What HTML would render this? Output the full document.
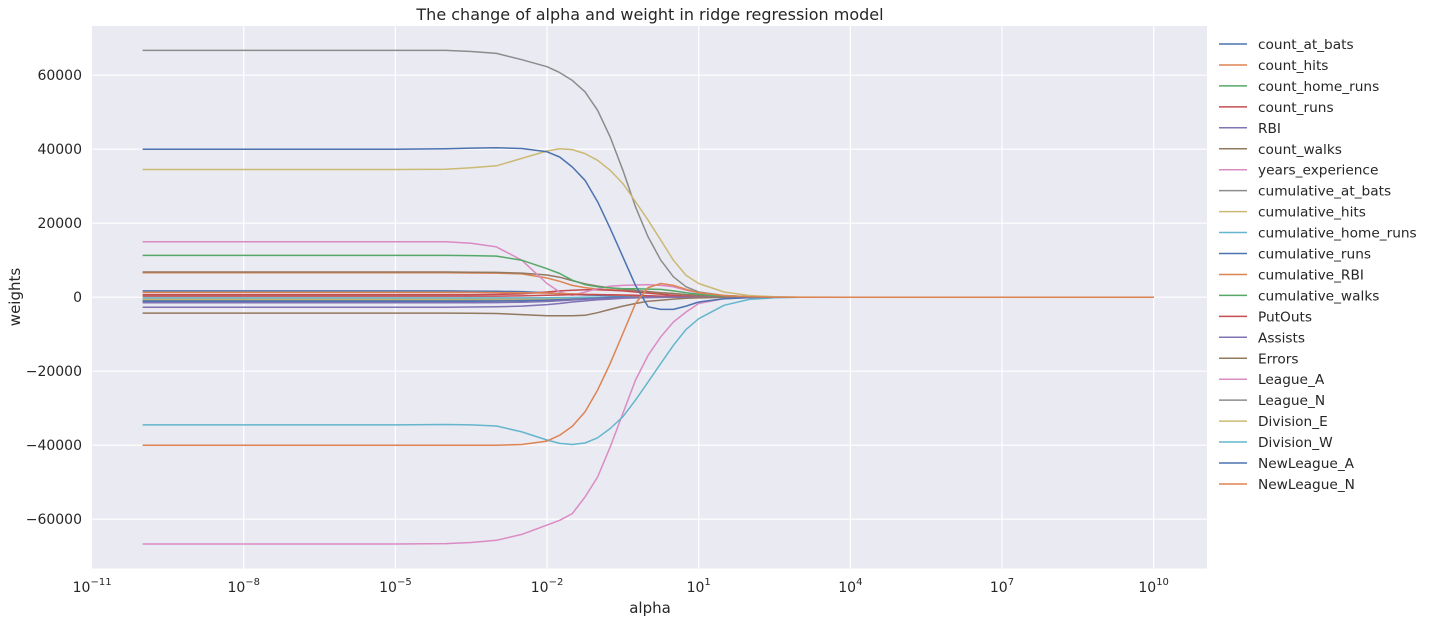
<!DOCTYPE html>
<html><head><meta charset="utf-8">
<style>
body{margin:0;background:#fff;width:1429px;height:623px;overflow:hidden;font-family:"DejaVu Sans","Liberation Sans",sans-serif;}
svg text{fill:#262626;font-family:"DejaVu Sans","Liberation Sans",sans-serif;}
</style></head>
<body>
<svg id="chart" width="1429" height="623" viewBox="0 0 1429 623" xmlns="http://www.w3.org/2000/svg">
<rect x="92" y="26" width="1115" height="542.5" fill="#EAEAF2"/>
<g id="grid"></g>
<g id="series"></g>
<g id="ticks"></g>
<text x="650" y="20" font-size="16" text-anchor="middle">The change of alpha and weight in ridge regression model</text>
<text x="650" y="613" font-size="15" text-anchor="middle">alpha</text>
<text x="20" y="297" font-size="15" text-anchor="middle" transform="rotate(-90 20 297)">weights</text>
<g id="legend"></g>
</svg>
<script>
const logAlphas=[-10,-5,-4,-3.5,-3,-2.5,-2,-1.75,-1.5,-1.25,-1,-0.75,-0.5,-0.25,0,0.25,0.5,0.75,1,1.5,2,2.5,3,4,10];
const seriesNames=["count_at_bats","count_hits","count_home_runs","count_runs","RBI","count_walks","years_experience","cumulative_at_bats","cumulative_hits","cumulative_home_runs","cumulative_runs","cumulative_RBI","cumulative_walks","PutOuts","Assists","Errors","League_A","League_N","Division_E","Division_W","NewLeague_A","NewLeague_N"];
const countAtBats=[1700,1700,1700,1650,1600,1500,1200,1000,800,600,500,400,300,250,200,150,100,60,30,10,0,0,0,0,0];
const countHits=[6600,6600,6600,6550,6500,6300,5200,4300,3200,2600,2200,2000,1800,1600,1500,1200,1000,700,500,150,30,0,0,0,0];
const countHomeRuns=[-800,-800,-800,-800,-780,-750,-650,-550,-450,-350,-250,-150,-50,0,50,60,50,30,20,5,0,0,0,0,0];
const countRuns=[700,700,700,700,750,900,1400,1700,1900,2000,2000,1900,1700,1400,1100,800,500,300,150,30,0,0,0,0,0];
const rbi=[-2700,-2700,-2700,-2650,-2600,-2400,-2000,-1700,-1300,-1000,-700,-500,-300,-200,-100,-50,0,0,0,0,0,0,0,0,0];
const countWalks=[6800,6800,6800,6750,6700,6500,6000,5400,4500,3600,3000,2500,2200,1800,1500,1200,1000,700,500,150,30,0,0,0,0];
const yearsExperience=[15000,15000,15000,14600,13600,10000,3700,1400,500,1400,2300,3000,3200,3300,3400,3200,2800,1900,1200,450,100,20,0,0,0];
const cumulativeAtBats=[-900,-900,-900,-880,-850,-800,-650,-550,-400,-300,-200,-100,0,100,150,150,120,80,40,10,0,0,0,0,0];
const cumulativeHits=[-500,-500,-500,-490,-480,-450,-380,-320,-250,-180,-100,-50,0,50,80,80,60,40,20,5,0,0,0,0,0];
const cumulativeHomeRuns=[-200,-200,-200,-200,-200,-180,-150,-120,-80,-40,0,40,60,80,80,70,50,30,15,5,0,0,0,0,0];
const cumulativeRuns=[-1100,-1100,-1100,-1080,-1050,-1000,-850,-700,-550,-400,-250,-100,0,60,90,80,60,40,20,5,0,0,0,0,0];
const cumulativeRBI=[1300,1300,1300,1300,1250,1200,1100,1000,900,800,700,600,500,400,300,200,150,100,50,10,0,0,0,0,0];
const cumulativeWalks=[11300,11300,11300,11250,11100,10000,7700,6400,4600,3400,2800,2500,2300,2300,2200,2100,1700,1200,800,200,50,0,0,0,0];
const putOuts=[300,300,300,300,300,350,500,600,700,700,700,650,600,500,400,300,200,120,60,10,0,0,0,0,0];
const assists=[-1500,-1500,-1500,-1480,-1450,-1350,-1150,-950,-750,-550,-400,-250,-150,-80,-40,-20,0,0,0,0,0,0,0,0,0];
const errors=[-4300,-4300,-4300,-4350,-4400,-4700,-5000,-5000,-5000,-4900,-4200,-3300,-2400,-1700,-1100,-800,-500,-300,-200,-50,0,0,0,0,0];
const leagueA=[-66700,-66700,-66600,-66300,-65700,-64100,-61600,-60300,-58500,-54000,-48600,-40500,-31400,-22400,-15700,-10700,-6700,-4000,-1700,-400,-100,-20,0,0,0];
const leagueN=[66700,66700,66700,66400,65900,64200,62300,60700,58600,55500,50500,43300,34300,24400,16300,10000,5500,2800,1400,450,100,20,0,0,0];
const divisionE=[34500,34500,34600,35000,35500,37500,39500,40100,39900,38800,37000,34300,30700,25800,20800,15400,10000,5900,3700,1400,450,100,20,0,0];
const divisionW=[-34500,-34500,-34400,-34500,-34800,-36400,-38600,-39500,-39800,-39400,-38000,-35500,-32300,-27800,-22900,-17900,-13000,-8700,-5800,-2200,-600,-150,-30,0,0];
const newLeagueA=[40000,40000,40100,40300,40400,40200,39300,37900,35200,31600,25800,18600,10900,3200,-2600,-3300,-3300,-2400,-1300,-400,-100,-20,0,0,0];
const newLeagueN=[-40000,-40000,-40000,-40000,-40000,-39800,-38900,-37300,-34900,-31000,-25100,-17900,-9800,-1700,2600,3700,3200,2100,1200,450,100,20,0,0,0];
const xTickExps=[-11,-8,-5,-2,1,4,7,10];
const yTicks=[-60000,-40000,-20000,0,20000,40000,60000];

const allSeries=[countAtBats,countHits,countHomeRuns,countRuns,rbi,countWalks,yearsExperience,cumulativeAtBats,cumulativeHits,cumulativeHomeRuns,cumulativeRuns,cumulativeRBI,cumulativeWalks,putOuts,assists,errors,leagueA,leagueN,divisionE,divisionW,newLeagueA,newLeagueN];
const palette=["#4C72B0","#DD8452","#55A868","#C44E52","#8172B3","#937860","#DA8BC3","#8C8C8C","#CCB974","#64B5CD"];
const NS="http://www.w3.org/2000/svg";
const X0=92.1,PXD=50.55,Y0=297.2,PXV=37/10000;
function xScale(l){return X0+(l+11)*PXD;}
function yScale(v){return Y0-v*PXV;}
function mk(tag,attrs,parent){const e=document.createElementNS(NS,tag);for(const k in attrs)e.setAttribute(k,attrs[k]);parent.appendChild(e);return e;}
const grid=document.getElementById('grid'),ticks=document.getElementById('ticks'),ser=document.getElementById('series'),leg=document.getElementById('legend');
xTickExps.forEach(ex=>{
  const x=xScale(ex);
  if(x>93){const g=mk('line',{x1:x,x2:x,y1:26,y2:568.5,stroke:'#fff','stroke-width':1.2},grid);
  
  }
  const t=mk('text',{x:x,y:592,'font-size':14,'text-anchor':'middle'},ticks);
  
  
  const a=document.createElementNS(NS,'tspan');a.textContent='10';t.appendChild(a);
  const b=document.createElementNS(NS,'tspan');b.setAttribute('dy','-7');b.setAttribute('font-size','10');b.textContent='\u2212'.repeat(ex<0?1:0)+Math.abs(ex);t.appendChild(b);
});
yTicks.forEach(v=>{
  const y=yScale(v);
  const g=mk('line',{x1:92,x2:1207,y1:y,y2:y,stroke:'#fff','stroke-width':1.2},grid);
  
  
  const t=mk('text',{x:82,y:y+5,'font-size':14,'text-anchor':'end'},ticks);
  
  
  t.textContent=(v<0?'\u2212':'')+Math.abs(v);
});
allSeries.forEach((vals,i)=>{
  const d=vals.map((v,j)=>(j?'L':'M')+xScale(logAlphas[j]).toFixed(1)+','+yScale(v).toFixed(1)).join('');
  const p=mk('path',{d:d,fill:'none',stroke:palette[i%10],'stroke-width':1.5,'stroke-linejoin':'round'},ser);
  
  
  const ly=44+i*20.95;
  const l=mk('line',{x1:1219,x2:1247,y1:ly,y2:ly,stroke:palette[i%10],'stroke-width':1.5},leg);
  
  
  const t=mk('text',{x:1258,y:ly+5,'font-size':13.7},leg);
  
  
  t.textContent=seriesNames[i];
});
</script>
</body></html>
